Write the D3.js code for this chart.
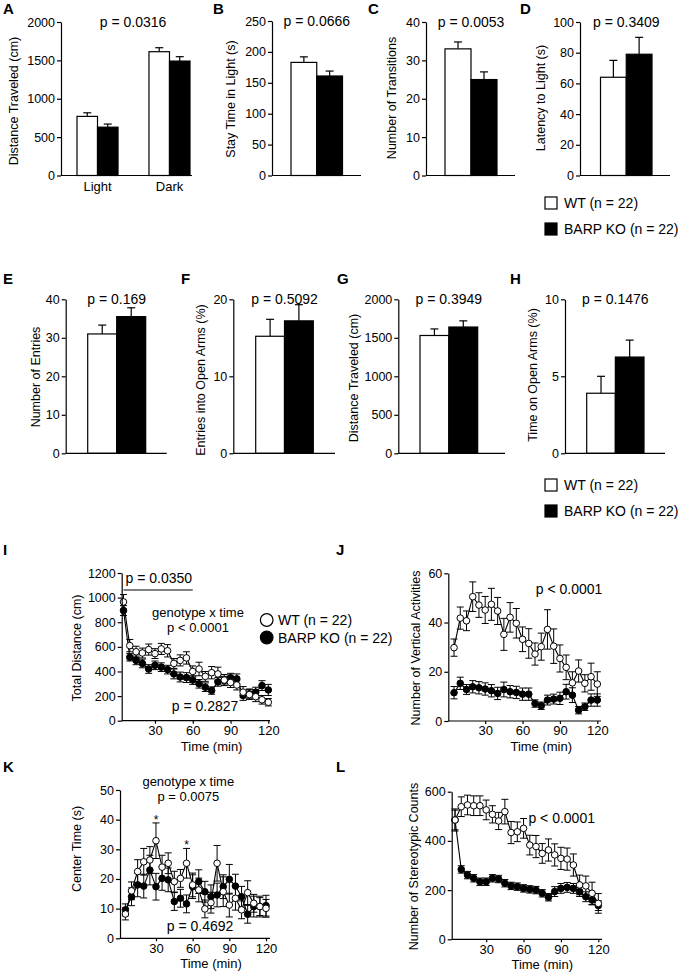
<!DOCTYPE html>
<html>
<head>
<meta charset="utf-8">
<script src="https://cdn.jsdelivr.net/npm/d3@7"></script>
<style>
  body { margin: 0; background: #fff; }
  svg { font-family: "Liberation Sans", Arial, Helvetica, sans-serif; }
  .axis path, .axis line { stroke: #000; fill: none; stroke-width: 1.2; }
  .axis text { font-size: 12.5px; fill: #000; }
  .ttl { font-size: 12.5px; }
  .pv { font-size: 14px; }
  .pv.sm { font-size: 13px; }
  .lab { font-size: 15px; font-weight: bold; }
  .leg { font-size: 14px; }
</style>
</head>
<body>
<svg id="fig" width="680" height="974"></svg>
<script>
// ---- data ----
var genotypes = ["WT", "BARP KO"];
var legendText = ["WT (n = 22)", "BARP KO (n = 22)"];

// light/dark box
var ldPhases = ["Light", "Dark"];
var ldDistWT = [770, 1613], ldDistWTErr = [47, 52];
var ldDistKO = [630, 1491], ldDistKOErr = [40, 57];
var ldStay = [183, 161], ldStayErr = [9, 8];          // WT, KO
var ldTrans = [33, 25], ldTransErr = [1.8, 2];
var ldLatency = [64, 79], ldLatencyErr = [11, 11];

// elevated plus maze
var epmEntries = [31, 35.5], epmEntriesErr = [2.3, 2.3];
var epmOpenEntries = [15.2, 17.2], epmOpenEntriesErr = [2.2, 2.1];
var epmDist = [1530, 1640], epmDistErr = [85, 80];
var epmOpenTime = [3.9, 6.25], epmOpenTimeErr = [1.1, 1.1];

// open field, 5-min bins
var times = [5, 10, 15, 20, 25, 30, 35, 40, 45, 50, 55, 60, 65, 70, 75, 80, 85, 90, 95, 100, 105, 110, 115, 120];
var timeTicks = [30, 60, 90, 120];

var distWT = [965, 610, 560, 550, 578, 545, 583, 568, 465, 490, 510, 400, 420, 360, 390, 380, 330, 310, 290, 232, 212, 195, 170, 150];
var distWTErr = [60, 50, 45, 40, 45, 40, 45, 50, 40, 45, 50, 45, 55, 40, 50, 55, 45, 40, 40, 45, 40, 40, 35, 30];
var distKO = [895, 515, 490, 465, 420, 450, 435, 415, 380, 355, 350, 330, 300, 272, 245, 315, 325, 350, 340, 205, 218, 232, 285, 250];
var distKOErr = [40, 30, 35, 35, 35, 35, 35, 35, 40, 40, 40, 35, 35, 35, 30, 35, 35, 35, 40, 40, 40, 40, 40, 45];

var vertWT = [29.8, 41.8, 40.7, 50.5, 47.1, 45.1, 47.4, 44.7, 35.2, 42.1, 39.7, 33.2, 31.5, 27.2, 30.2, 37.2, 30.4, 25.4, 21.8, 15.5, 20.3, 15.3, 18.0, 15.0];
var vertWTErr = [3.5, 4.5, 4, 6, 5, 5.5, 6.5, 5.5, 6.5, 6, 6, 5, 6, 4.5, 5.5, 8, 7, 5.5, 5, 4.5, 4.5, 3.5, 5.5, 5];
var vertKO = [11.5, 15.3, 12.8, 13.9, 13.5, 13.0, 12.3, 11.2, 12.8, 11.9, 11.6, 10.9, 10.9, 7.1, 6.2, 8.5, 8.9, 9.2, 11.9, 10.5, 4.4, 5.8, 8.5, 8.5];
var vertKOErr = [2.5, 2.5, 2, 2.5, 2.5, 2.5, 2.5, 2.5, 3, 2.5, 2.5, 2.5, 2.5, 1.5, 1.5, 2, 2, 2.5, 3, 3, 1.5, 1.5, 2.5, 2.5];

var centerWT = [8.2, 16, 22.5, 25.8, 26.4, 32.9, 24, 25.3, 19.1, 20.2, 25.3, 18, 16.3, 9.9, 12, 25.3, 15.7, 11.2, 13.5, 9.6, 15.4, 11.8, 10.7, 10.1];
var centerWTErr = [2, 3, 4, 4.5, 4.5, 6, 4, 3.5, 3.5, 3, 5, 4, 4, 3, 3.5, 6, 5, 4, 4, 3, 4, 3, 3, 3];
var centerKO = [9.6, 14, 18, 17.6, 23, 17.4, 20.2, 19.7, 12.4, 13.5, 11.6, 17.4, 19.1, 15.7, 14, 14.6, 17.4, 19.9, 17.6, 14, 8.1, 10.7, 10.7, 11];
var centerKOErr = [2, 3, 4, 4, 5, 4.5, 4, 4, 3, 3, 3, 4, 4, 3.5, 4, 4, 4, 5, 4, 3.5, 3, 3.5, 3.5, 3.5];
var centerStars = [30, 55];

var stereoWT = [485, 539, 546, 543, 543, 526, 508, 481, 519, 434, 437, 451, 383, 377, 349, 363, 343, 329, 326, 302, 221, 217, 187, 146];
var stereoWTErr = [45, 40, 40, 40, 40, 40, 35, 35, 50, 45, 40, 40, 40, 45, 40, 45, 45, 45, 45, 45, 40, 40, 45, 40];
var stereoKO = [485, 284, 261, 248, 234, 234, 248, 245, 228, 217, 214, 207, 203, 200, 187, 171, 194, 207, 211, 207, 194, 173, 160, 137];
var stereoKOErr = [40, 15, 15, 15, 15, 15, 15, 15, 15, 15, 15, 15, 15, 15, 15, 15, 20, 20, 20, 20, 20, 20, 20, 20];

var svg = d3.select("#fig");
var fills = ["#fff", "#000"];
var fmt = d3.format("d");

function label(txt, x, y) {
  svg.append("text").attr("class", "lab").attr("x", x).attr("y", y).text(txt);
}
function ptext(txt, x, y, anchor, cls) {
  svg.append("text").attr("class", "pv" + (cls ? " " + cls : "")).attr("x", x).attr("y", y)
    .attr("text-anchor", anchor || "middle").text(txt);
}
function ytitle(txt, x, y) {
  svg.append("text").attr("class", "ttl")
    .attr("transform", "translate(" + x + "," + y + ") rotate(-90)")
    .attr("text-anchor", "middle").text(txt);
}
function yaxis(y, x, ticks) {
  svg.append("g").attr("class", "axis")
    .attr("transform", "translate(" + x + ",0)")
    .call(d3.axisLeft(y).tickValues(ticks).tickFormat(fmt).tickSize(4).tickSizeOuter(0).tickPadding(2));
}
function baseline(x0, x1, y) {
  svg.append("line").attr("x1", x0).attr("x2", x1).attr("y1", y).attr("y2", y)
    .attr("stroke", "#000").attr("stroke-width", 1.2);
}

// bar panel: means[g][k], errs[g][k] (g group, k genotype)
function barPanel(o) {
  var y = d3.scaleLinear().domain([0, o.yMax]).range([o.bottom, o.top]);
  var gx = d3.scaleBand().domain(o.groups).range([o.bx0, o.bx1]).paddingInner(o.gap || 0);
  var bx = d3.scaleBand().domain(genotypes).range([0, gx.bandwidth()]);
  var g = svg.append("g");
  o.groups.forEach(function (grp, gi) {
    genotypes.forEach(function (gt, k) {
      var m = o.means[gi][k], e = o.errs[gi][k];
      var xc = gx(grp) + bx(gt) + bx.bandwidth() / 2;
      g.append("line").attr("x1", xc).attr("x2", xc)
        .attr("y1", y(m)).attr("y2", y(m + e)).attr("stroke", "#000").attr("stroke-width", 1.2);
      g.append("line").attr("x1", xc - 4).attr("x2", xc + 4)
        .attr("y1", y(m + e)).attr("y2", y(m + e)).attr("stroke", "#000").attr("stroke-width", 1.2);
      g.append("rect").attr("x", gx(grp) + bx(gt)).attr("y", y(m))
        .attr("width", bx.bandwidth()).attr("height", y(0) - y(m))
        .attr("fill", fills[k]).attr("stroke", "#000").attr("stroke-width", 1.2);
    });
  });
  yaxis(y, o.ax0, o.ticks);
  baseline(o.ax0, o.ax1, y(0));
  if (o.xLabels) {
    svg.append("g").attr("class", "axis")
      .attr("transform", "translate(0," + y(0) + ")")
      .call(d3.axisBottom(gx).tickSize(0).tickPadding(6))
      .call(function (s) { s.select(".domain").remove(); })
      .selectAll("text").style("font-size", "13px");
  }
  ptext(o.p, o.px !== undefined ? o.px : (o.bx0 + o.bx1) / 2, o.top + 5);
  ytitle(o.title, o.tx, o.ty);
  label(o.lab, o.lx, o.ly);
}

function barLegend(x, y) {
  genotypes.forEach(function (gt, k) {
    svg.append("rect").attr("x", x).attr("y", y + k * 26 - 6).attr("width", 12).attr("height", 12)
      .attr("fill", fills[k]).attr("stroke", "#000").attr("stroke-width", 1.2);
    svg.append("text").attr("class", "leg").attr("x", x + 19).attr("y", y + k * 26 + 5).text(legendText[k]);
  });
}

// time course panel
function timePanel(o) {
  var x = d3.scaleLinear().domain([0, 120]).range([o.x0, o.x1]);
  var y = d3.scaleLinear().domain([0, o.yMax]).range([o.bottom, o.top]);
  var g = svg.append("g");
  var series = [[o.wt, o.wtErr], [o.ko, o.koErr]];
  series.forEach(function (s) {
    times.forEach(function (t, i) {
      var xc = x(t), lo = y(s[0][i] - s[1][i]), hi = y(s[0][i] + s[1][i]);
      g.append("line").attr("x1", xc).attr("x2", xc).attr("y1", lo).attr("y2", hi)
        .attr("stroke", "#000").attr("stroke-width", 1);
      [lo, hi].forEach(function (yy) {
        g.append("line").attr("x1", xc - 3.5).attr("x2", xc + 3.5).attr("y1", yy).attr("y2", yy)
          .attr("stroke", "#000").attr("stroke-width", 1);
      });
    });
  });
  var line = d3.line().x(function (d, i) { return x(times[i]); }).y(function (d) { return y(d); });
  series.forEach(function (s) {
    g.append("path").attr("d", line(s[0])).attr("fill", "none").attr("stroke", "#000").attr("stroke-width", 1.1);
  });
  [1, 0].forEach(function (k) {
    g.selectAll(null).data(series[k][0]).enter().append("circle")
      .attr("cx", function (d, i) { return x(times[i]); })
      .attr("cy", function (d) { return y(d); })
      .attr("r", 3.3).attr("fill", fills[k]).attr("stroke", "#000").attr("stroke-width", 1);
  });
  yaxis(y, o.ax0, o.ticks);
  var xa = svg.append("g").attr("class", "axis")
    .attr("transform", "translate(0," + y(0) + ")")
    .call(d3.axisBottom(x).tickValues(timeTicks).tickSize(3).tickSizeOuter(0).tickPadding(2));
  xa.select(".domain").remove();
  xa.selectAll("text").style("font-size", "13px");
  baseline(o.ax0, o.ax1, y(0));
  svg.append("text").attr("class", "ttl").style("font-size", "13px")
    .attr("x", (x(30) + x(120)) / 2).attr("y", y(0) + 30)
    .attr("text-anchor", "middle").text("Time (min)");
  ytitle(o.title, o.tx, o.ty);
  label(o.lab, o.lx, o.ly);
  return { x: x, y: y };
}

// ---- row 1: light/dark ----
var r1 = { top: 22, bottom: 175.5 };
barPanel({ groups: ldPhases, means: [[ldDistWT[0], ldDistKO[0]], [ldDistWT[1], ldDistKO[1]]],
  errs: [[ldDistWTErr[0], ldDistKOErr[0]], [ldDistWTErr[1], ldDistKOErr[1]]],
  yMax: 2000, ticks: [0, 500, 1000, 1500, 2000], top: r1.top, bottom: r1.bottom,
  bx0: 77, bx1: 190, gap: 0.43, ax0: 61, ax1: 192, xLabels: true,
  p: "p = 0.0316", px: 133, title: "Distance Traveled (cm)", tx: 18, ty: 101, lab: "A", lx: 3, ly: 14 });
barPanel({ groups: ["a"], means: [ldStay], errs: [ldStayErr], yMax: 250, ticks: [0, 50, 100, 150, 200, 250],
  top: r1.top - 1, bottom: r1.bottom, bx0: 291, bx1: 342.5, ax0: 272, ax1: 361,
  p: "p = 0.0666", title: "Stay Time in Light (s)", tx: 234.5, ty: 99, lab: "B", lx: 213, ly: 14 });
barPanel({ groups: ["a"], means: [ldTrans], errs: [ldTransErr], yMax: 40, ticks: [0, 10, 20, 30, 40],
  top: r1.top, bottom: r1.bottom, bx0: 445, bx1: 497, ax0: 426, ax1: 515,
  p: "p = 0.0053", title: "Number of Transitions", tx: 396, ty: 98, lab: "C", lx: 368, ly: 14 });
barPanel({ groups: ["a"], means: [ldLatency], errs: [ldLatencyErr], yMax: 100, ticks: [0, 20, 40, 60, 80, 100],
  top: r1.top, bottom: r1.bottom, bx0: 600.5, bx1: 652, ax0: 580, ax1: 670,
  p: "p = 0.3409", title: "Latency to Light (s)", tx: 544.5, ty: 98, lab: "D", lx: 520, ly: 14 });
barLegend(545, 203);

// ---- row 2: elevated plus maze ----
var r2 = { top: 299.3, bottom: 453.3 };
barPanel({ groups: ["a"], means: [epmEntries], errs: [epmEntriesErr], yMax: 40, ticks: [0, 10, 20, 30, 40],
  top: r2.top, bottom: r2.bottom, bx0: 87.7, bx1: 145.7, ax0: 65.7, ax1: 166.7,
  p: "p = 0.169", title: "Number of Entries", tx: 39.5, ty: 377, lab: "E", lx: 3, ly: 284 });
barPanel({ groups: ["a"], means: [epmOpenEntries], errs: [epmOpenEntriesErr], yMax: 20, ticks: [0, 10, 20],
  top: r2.top, bottom: r2.bottom, bx0: 255.7, bx1: 313.3, ax0: 233.3, ax1: 335,
  p: "p = 0.5092", title: "Entries into Open Arms (%)", tx: 204.5, ty: 380, lab: "F", lx: 181, ly: 284 });
barPanel({ groups: ["a"], means: [epmDist], errs: [epmDistErr], yMax: 2000, ticks: [0, 500, 1000, 1500, 2000],
  top: r2.top, bottom: r2.bottom, bx0: 420, bx1: 477.7, ax0: 398.3, ax1: 505,
  p: "p = 0.3949", title: "Distance Traveled (cm)", tx: 357.5, ty: 378, lab: "G", lx: 337, ly: 284 });
barPanel({ groups: ["a"], means: [epmOpenTime], errs: [epmOpenTimeErr], yMax: 10, ticks: [0, 5, 10],
  top: r2.top, bottom: r2.bottom, bx0: 586.7, bx1: 644, ax0: 565, ax1: 665,
  p: "p = 0.1476", title: "Time on Open Arms (%)", tx: 537, ty: 375, lab: "H", lx: 510, ly: 284 });
barLegend(545, 485);

// ---- rows 3-4: open field ----
var pI = timePanel({ wt: distWT, wtErr: distWTErr, ko: distKO, koErr: distKOErr,
  yMax: 1200, ticks: [0, 200, 400, 600, 800, 1000, 1200], top: 573, bottom: 720.7,
  x0: 117.2, x1: 268.3, ax0: 121.7, ax1: 270,
  title: "Total Distance (cm)", tx: 81, ty: 648, lab: "I", lx: 3, ly: 555 });
svg.append("line").attr("x1", pI.x(5)).attr("x2", pI.x(60)).attr("y1", 590).attr("y2", 590)
  .attr("stroke", "#000").attr("stroke-width", 1.2);
ptext("p = 0.0350", pI.x(5) + 2, 583, "start");
ptext("genotype x time", 198, 617, null, "sm");
ptext("p < 0.0001", 198, 631.5, null, "sm");
ptext("p = 0.2827", 205, 711);
genotypes.forEach(function (gt, k) {
  svg.append("circle").attr("cx", 266.7).attr("cy", 620 + k * 17.5).attr("r", 6.3)
    .attr("fill", fills[k]).attr("stroke", "#000").attr("stroke-width", 1.2);
  svg.append("text").attr("class", "leg").attr("x", 278).attr("y", 625 + k * 17.5).text(legendText[k]);
});

timePanel({ wt: vertWT, wtErr: vertWTErr, ko: vertKO, koErr: vertKOErr,
  yMax: 60, ticks: [0, 20, 40, 60], top: 573.3, bottom: 721,
  x0: 447.8, x1: 597.3, ax0: 448.3, ax1: 601,
  title: "Number of Vertical Activities", tx: 419.5, ty: 648, lab: "J", lx: 336, ly: 555 });
ptext("p < 0.0001", 569, 594);

var pK = timePanel({ wt: centerWT, wtErr: centerWTErr, ko: centerKO, koErr: centerKOErr,
  yMax: 50, ticks: [0, 10, 20, 30, 40, 50], top: 790, bottom: 938.3,
  x0: 119.3, x1: 266, ax0: 120, ax1: 270,
  title: "Center Time (s)", tx: 81, ty: 849, lab: "K", lx: 3, ly: 772 });
ptext("genotype x time", 188.3, 786, null, "sm");
ptext("p = 0.0075", 188.3, 800.5, null, "sm");
ptext("p = 0.4692", 200, 931);
centerStars.forEach(function (t) {
  var i = times.indexOf(t);
  svg.append("text").attr("x", pK.x(t)).attr("y", pK.y(centerWT[i] + centerWTErr[i]) + 1)
    .attr("text-anchor", "middle").style("font-size", "12px").text("*");
});

timePanel({ wt: stereoWT, wtErr: stereoWTErr, ko: stereoKO, koErr: stereoKOErr,
  yMax: 600, ticks: [0, 200, 400, 600], top: 791.7, bottom: 939.3,
  x0: 448.8, x1: 598.3, ax0: 451.7, ax1: 602,
  title: "Number of Stereotypic Counts", tx: 418, ty: 866.5, lab: "L", lx: 336, ly: 772 });
ptext("p < 0.0001", 561.7, 823);
</script>
</body>
</html>
